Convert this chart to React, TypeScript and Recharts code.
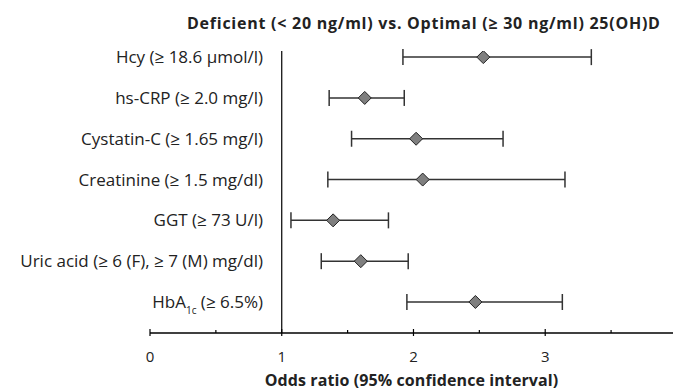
import {
  ScatterChart,
  Scatter,
  XAxis,
  YAxis,
  ErrorBar,
  ReferenceLine,
  Label,
} from "recharts"

const labels = [
  "Hcy (≥ 18.6 µmol/l)",
  "hs-CRP (≥ 2.0 mg/l)",
  "Cystatin-C (≥ 1.65 mg/l)",
  "Creatinine (≥ 1.5 mg/dl)",
  "GGT (≥ 73 U/l)",
  "Uric acid (≥ 6 (F), ≥ 7 (M) mg/dl)",
  "HbA_{1c} (≥ 6.5%)",
]
const oddsRatio = [2.53, 1.63, 2.02, 2.07, 1.39, 1.6, 2.47]
const ciLow = [1.92, 1.36, 1.53, 1.35, 1.07, 1.3, 1.95]
const ciHigh = [3.35, 1.93, 2.68, 3.15, 1.81, 1.96, 3.13]
const xTicks = [0, 0.5, 1, 1.5, 2, 2.5, 3, 3.5]

const FONT = "'Open Sans', sans-serif"

const rows = labels.map((label, i) => ({
  label,
  y: labels.length - 1 - i,
  or: oddsRatio[i],
  err: [oddsRatio[i] - ciLow[i], ciHigh[i] - oddsRatio[i]],
}))

const Diamond = (props: any) => {
  const { cx, cy } = props
  const h = 6.5
  return (
    <polygon
      points={`${cx},${cy - h} ${cx + h},${cy} ${cx},${cy + h} ${cx - h},${cy}`}
      fill="#7f7f7f"
      stroke="#222"
      strokeWidth={1}
    />
  )
}

const XTick = (props: any) => {
  const { x, y, payload } = props
  const major = Number.isInteger(payload.value)
  return (
    <g>
      <line
        x1={x}
        x2={x}
        y1={y - (major ? 4 : 3)}
        y2={y + (major ? 3 : 0)}
        stroke="#000"
        strokeWidth={1.2}
      />
      {major && (
        <text x={x} y={y + 29} textAnchor="middle" fontSize={15} fill="#222" fontFamily={FONT}>
          {payload.value}
        </text>
      )}
    </g>
  )
}

const YTick = (props: any) => {
  const { x, y, payload } = props
  const text = labels[labels.length - 1 - payload.value] || ""
  const m = text.match(/^(.*)_\{(.*)\}(.*)$/)
  return (
    <text
      x={x + 113}
      y={y + 6}
      textAnchor="end"
      fontSize={17}
      fill="#222"
      fontFamily={FONT}
    >
      {m ? (
        <>
          <tspan>{m[1]}</tspan>
          <tspan fontSize={10} dy={6}>{m[2]}</tspan>
          <tspan dy={-6}>{m[3]}</tspan>
        </>
      ) : (
        text
      )}
    </text>
  )
}

export default function App() {
  return (
    <div style={{ position: "absolute", left: 0, top: 0, width: 673, height: 392, background: "#fff" }}>
      <div
        style={{
          position: "absolute",
          left: 187,
          top: 12,
          fontFamily: FONT,
          fontWeight: 700,
          fontSize: 16,
          letterSpacing: 0.75,
          color: "#222",
          whiteSpace: "nowrap",
        }}
      >
        Deficient (&lt; 20 ng/ml) vs. Optimal (≥ 30 ng/ml) 25(OH)D
      </div>
      <ScatterChart
        width={673}
        height={392}
        data={rows}
        margin={{ top: 51, right: 0, bottom: 0, left: 0 }}
      >
        <XAxis
          type="number"
          dataKey="or"
          domain={[0, 3.97]}
          ticks={xTicks}
          interval={0}
          tick={<XTick />}
          tickLine={false}
          tickSize={0}
          tickMargin={0}
          axisLine={{ stroke: "#000", strokeWidth: 1.5 }}
          height={59}
          allowDataOverflow
        >
          <Label
            value="Odds ratio (95% confidence interval)"
            position="insideBottom"
            offset={6}
            style={{ fontFamily: FONT, fontWeight: 700, fontSize: 16, letterSpacing: 0.1, fill: "#222" }}
          />
        </XAxis>
        <YAxis
          type="number"
          dataKey="y"
          domain={[-0.76, 6.15]}
          ticks={[0, 1, 2, 3, 4, 5, 6]}
          interval={0}
          width={150}
          axisLine={false}
          tickLine={false}
          tickSize={0}
          tickMargin={0}
          tick={<YTick />}
          allowDataOverflow
        />
        <ReferenceLine x={1} stroke="#000" strokeWidth={1.2} />
        <Scatter dataKey="or" shape={<Diamond />} isAnimationActive={false}>
          <ErrorBar
            dataKey="err"
            direction="x"
            width={8}
            stroke="#333"
            strokeWidth={1.5}
            isAnimationActive={false}
          />
        </Scatter>
      </ScatterChart>
    </div>
  )
}
